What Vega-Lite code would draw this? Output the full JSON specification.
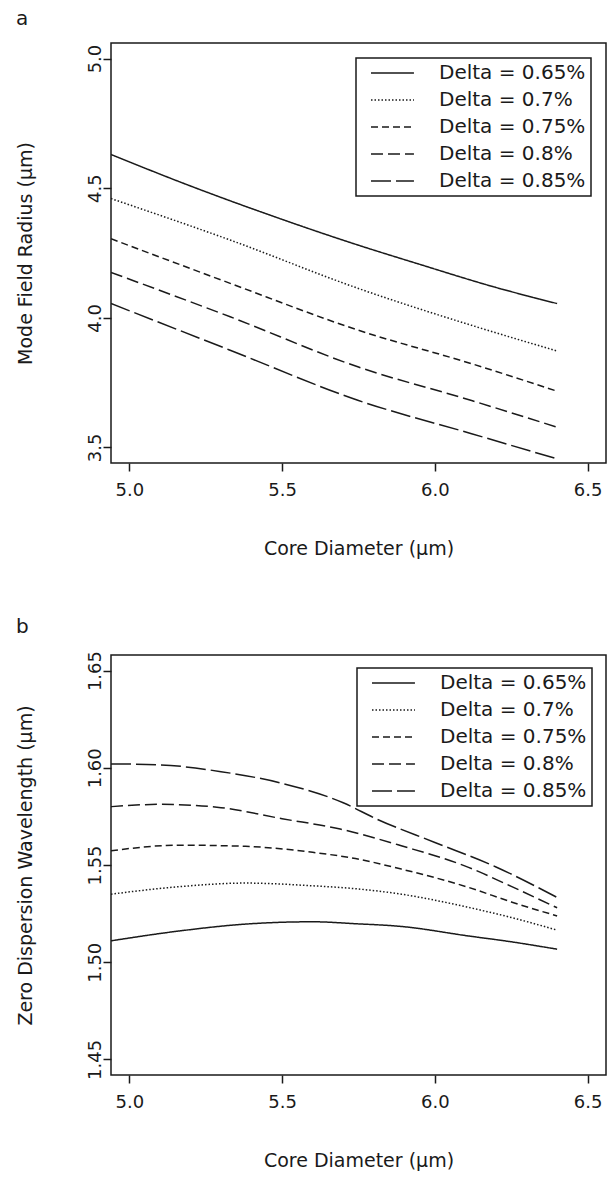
{
  "$schema": "https://vega.github.io/schema/vega-lite/v6.json",
  "background": "white",
  "padding": {"left": 15, "top": 8, "right": 0, "bottom": 0},
  "spacing": 56,
  "datasets": {
    "mfr": [
      {"delta": "Delta = 0.65%", "x": 4.94, "y": 4.63},
      {"delta": "Delta = 0.65%", "x": 5.19, "y": 4.513},
      {"delta": "Delta = 0.65%", "x": 5.475, "y": 4.39},
      {"delta": "Delta = 0.65%", "x": 5.75, "y": 4.28},
      {"delta": "Delta = 0.65%", "x": 5.94, "y": 4.21},
      {"delta": "Delta = 0.65%", "x": 6.2, "y": 4.117},
      {"delta": "Delta = 0.65%", "x": 6.4, "y": 4.055},
      {"delta": "Delta = 0.7%", "x": 4.94, "y": 4.46},
      {"delta": "Delta = 0.7%", "x": 5.33, "y": 4.3},
      {"delta": "Delta = 0.7%", "x": 5.75, "y": 4.113},
      {"delta": "Delta = 0.7%", "x": 6.12, "y": 3.971},
      {"delta": "Delta = 0.7%", "x": 6.4, "y": 3.872},
      {"delta": "Delta = 0.75%", "x": 4.94, "y": 4.305},
      {"delta": "Delta = 0.75%", "x": 5.33, "y": 4.133},
      {"delta": "Delta = 0.75%", "x": 5.75, "y": 3.952},
      {"delta": "Delta = 0.75%", "x": 6.12, "y": 3.823},
      {"delta": "Delta = 0.75%", "x": 6.4, "y": 3.717},
      {"delta": "Delta = 0.8%", "x": 4.94, "y": 4.175},
      {"delta": "Delta = 0.8%", "x": 5.33, "y": 4.004},
      {"delta": "Delta = 0.8%", "x": 5.75, "y": 3.81},
      {"delta": "Delta = 0.8%", "x": 6.12, "y": 3.681},
      {"delta": "Delta = 0.8%", "x": 6.4, "y": 3.578},
      {"delta": "Delta = 0.85%", "x": 4.94, "y": 4.055},
      {"delta": "Delta = 0.85%", "x": 5.33, "y": 3.875},
      {"delta": "Delta = 0.85%", "x": 5.75, "y": 3.681},
      {"delta": "Delta = 0.85%", "x": 6.12, "y": 3.553},
      {"delta": "Delta = 0.85%", "x": 6.4, "y": 3.456}
    ],
    "zdw": [
      {"delta": "Delta = 0.65%", "x": 4.94, "y": 1.511},
      {"delta": "Delta = 0.65%", "x": 5.16, "y": 1.516},
      {"delta": "Delta = 0.65%", "x": 5.38, "y": 1.5196},
      {"delta": "Delta = 0.65%", "x": 5.6, "y": 1.5208},
      {"delta": "Delta = 0.65%", "x": 5.74, "y": 1.5198},
      {"delta": "Delta = 0.65%", "x": 5.89, "y": 1.5184},
      {"delta": "Delta = 0.65%", "x": 6.11, "y": 1.5135},
      {"delta": "Delta = 0.65%", "x": 6.25, "y": 1.5105},
      {"delta": "Delta = 0.65%", "x": 6.4, "y": 1.5067},
      {"delta": "Delta = 0.7%", "x": 4.94, "y": 1.535},
      {"delta": "Delta = 0.7%", "x": 5.16, "y": 1.5388},
      {"delta": "Delta = 0.7%", "x": 5.38, "y": 1.5407},
      {"delta": "Delta = 0.7%", "x": 5.6, "y": 1.5393},
      {"delta": "Delta = 0.7%", "x": 5.74, "y": 1.5378},
      {"delta": "Delta = 0.7%", "x": 5.89, "y": 1.535},
      {"delta": "Delta = 0.7%", "x": 6.11, "y": 1.5282},
      {"delta": "Delta = 0.7%", "x": 6.25, "y": 1.523},
      {"delta": "Delta = 0.7%", "x": 6.4, "y": 1.5165},
      {"delta": "Delta = 0.75%", "x": 4.94, "y": 1.5573},
      {"delta": "Delta = 0.75%", "x": 5.16, "y": 1.5602},
      {"delta": "Delta = 0.75%", "x": 5.38, "y": 1.5596},
      {"delta": "Delta = 0.75%", "x": 5.6, "y": 1.5565},
      {"delta": "Delta = 0.75%", "x": 5.74, "y": 1.5533},
      {"delta": "Delta = 0.75%", "x": 5.89, "y": 1.5479},
      {"delta": "Delta = 0.75%", "x": 6.11, "y": 1.5385},
      {"delta": "Delta = 0.75%", "x": 6.25, "y": 1.531},
      {"delta": "Delta = 0.75%", "x": 6.4, "y": 1.5238},
      {"delta": "Delta = 0.8%", "x": 4.94, "y": 1.58},
      {"delta": "Delta = 0.8%", "x": 5.1, "y": 1.5812},
      {"delta": "Delta = 0.8%", "x": 5.3, "y": 1.5795},
      {"delta": "Delta = 0.8%", "x": 5.5, "y": 1.5738},
      {"delta": "Delta = 0.8%", "x": 5.69, "y": 1.5685},
      {"delta": "Delta = 0.8%", "x": 5.89, "y": 1.5599},
      {"delta": "Delta = 0.8%", "x": 6.11, "y": 1.5488},
      {"delta": "Delta = 0.8%", "x": 6.25, "y": 1.539},
      {"delta": "Delta = 0.8%", "x": 6.4, "y": 1.528},
      {"delta": "Delta = 0.85%", "x": 4.94, "y": 1.602},
      {"delta": "Delta = 0.85%", "x": 5.1, "y": 1.6015},
      {"delta": "Delta = 0.85%", "x": 5.3, "y": 1.598},
      {"delta": "Delta = 0.85%", "x": 5.5, "y": 1.592},
      {"delta": "Delta = 0.85%", "x": 5.7, "y": 1.582},
      {"delta": "Delta = 0.85%", "x": 5.81, "y": 1.5736},
      {"delta": "Delta = 0.85%", "x": 6.0, "y": 1.5616},
      {"delta": "Delta = 0.85%", "x": 6.2, "y": 1.549},
      {"delta": "Delta = 0.85%", "x": 6.4, "y": 1.5333}
    ]
  },
  "vconcat": [
    {
      "title": {"text": "a"},
      "width": 495,
      "height": 420,
      "data": {"name": "mfr"},
      "mark": {"type": "line", "strokeWidth": 1.5, "color": "#1a1a1a", "clip": true, "interpolate": "monotone"},
      "encoding": {
        "x": {"field": "x", "type": "quantitative", "scale": {"domain": [4.94, 6.56], "nice": false, "zero": false}, "axis": {"values": [5, 5.5, 6, 6.5], "format": ".1f", "title": "Core Diameter (μm)"}},
        "y": {"field": "y", "type": "quantitative", "scale": {"domain": [3.44, 5.06], "nice": false, "zero": false}, "axis": {"values": [3.5, 4, 4.5, 5], "format": ".1f", "title": "Mode Field Radius (μm)"}},
        "strokeDash": {"field": "delta", "type": "nominal", "scale": {"domain": ["Delta = 0.65%", "Delta = 0.7%", "Delta = 0.75%", "Delta = 0.8%", "Delta = 0.85%"], "range": [[1, 0], [1.5, 2], [7, 4], [12, 5], [20, 5]]}, "legend": {"title": null, "legendX": 245, "legendY": 15}}
      }
    },
    {
      "title": {"text": "b"},
      "width": 495,
      "height": 420,
      "data": {"name": "zdw"},
      "mark": {"type": "line", "strokeWidth": 1.5, "color": "#1a1a1a", "clip": true, "interpolate": "monotone"},
      "encoding": {
        "x": {"field": "x", "type": "quantitative", "scale": {"domain": [4.94, 6.56], "nice": false, "zero": false}, "axis": {"values": [5, 5.5, 6, 6.5], "format": ".1f", "title": "Core Diameter (μm)"}},
        "y": {"field": "y", "type": "quantitative", "scale": {"domain": [1.442, 1.658], "nice": false, "zero": false}, "axis": {"values": [1.45, 1.5, 1.55, 1.6, 1.65], "format": ".2f", "title": "Zero Dispersion Wavelength (μm)"}},
        "strokeDash": {"field": "delta", "type": "nominal", "scale": {"domain": ["Delta = 0.65%", "Delta = 0.7%", "Delta = 0.75%", "Delta = 0.8%", "Delta = 0.85%"], "range": [[1, 0], [1.5, 2], [7, 4], [12, 5], [20, 5]]}, "legend": {"title": null, "legendX": 246, "legendY": 13}}
      }
    }
  ],
  "resolve": {"scale": {"strokeDash": "independent"}, "legend": {"strokeDash": "independent"}},
  "config": {
    "font": "DejaVu Sans",
    "view": {"stroke": "#1a1a1a", "strokeWidth": 1.5},
    "title": {"anchor": "start", "frame": "bounds", "fontSize": 20, "fontWeight": "normal", "font": "DejaVu Sans", "color": "#1a1a1a", "offset": 14},
    "axis": {"domain": false, "grid": false, "ticks": true, "tickColor": "#1a1a1a", "tickSize": 8, "tickWidth": 1.5, "labelFont": "DejaVu Sans", "labelFontSize": 18, "labelColor": "#1a1a1a", "titleFont": "DejaVu Sans", "titleFontSize": 19, "titleFontWeight": "normal", "titleColor": "#1a1a1a"},
    "axisX": {"labelPadding": 10, "titlePadding": 40},
    "axisY": {"labelAngle": -90, "labelAlign": "center", "labelBaseline": "alphabetic", "labelPadding": 3, "titlePadding": 51},
    "legend": {"orient": "none", "strokeColor": "#1a1a1a", "strokeWidth": 1.5, "fillColor": "white", "padding": 5, "symbolType": "M0,0H6", "symbolSize": 205, "symbolStrokeWidth": 1.5, "symbolStrokeColor": "#1a1a1a", "symbolFillColor": "transparent", "labelFont": "DejaVu Sans", "labelFontSize": 20, "labelColor": "#1a1a1a", "labelOffset": 58, "labelLimit": 300, "rowPadding": 7}
  }
}
